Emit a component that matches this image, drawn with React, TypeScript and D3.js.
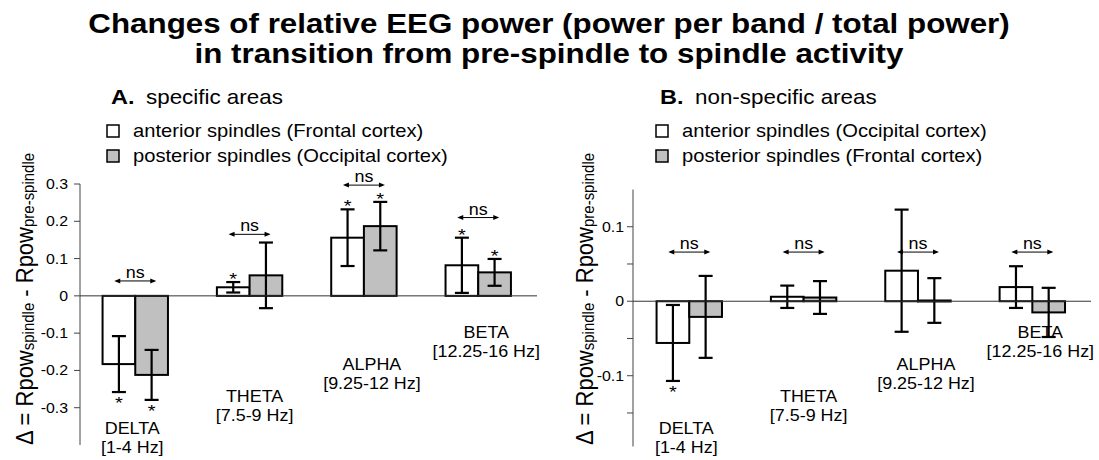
import React from 'react'
import { scaleBand, scaleLinear } from 'd3';

const bands = ["DELTA", "THETA", "ALPHA", "BETA"];
const bandRanges = ["[1-4 Hz]", "[7.5-9 Hz]", "[9.25-12 Hz]", "[12.25-16 Hz]"];
const groups = ["anterior", "posterior"];

// panel A - specific areas
const aAnterior = [-0.183, 0.023, 0.156, 0.082];
const aAnteriorErr = [0.075, 0.014, 0.076, 0.074];
const aPosterior = [-0.212, 0.055, 0.187, 0.063];
const aPosteriorErr = [0.067, 0.088, 0.065, 0.036];
const aAnteriorStar = [true, true, true, true];
const aPosteriorStar = [true, false, true, true];
const aNsLevel = [0.04, 0.165, 0.297, 0.21];
const aTicks = [0.3, 0.2, 0.1, 0, -0.1, -0.2, -0.3];
const aMinor: number[] = [];

// panel B - non-specific areas
const bAnterior = [-0.056, 0.006, 0.041, 0.019];
const bAnteriorErr = [0.051, 0.015, 0.082, 0.028];
const bPosterior = [-0.021, 0.005, 0.001, -0.015];
const bPosteriorErr = [0.055, 0.022, 0.030, 0.033];
const bAnteriorStar = [true, false, false, false];
const bPosteriorStar = [false, false, false, false];
const bNsLevel = [0.066, 0.066, 0.066, 0.066];
const bTicks = [0.1, 0, -0.1];
const bMinor = [0.05, -0.05, -0.15];

const FONT = "'Liberation Sans', Arial, sans-serif";
const SX = 1.12;
const labelBase = [434, 402, 370, 338];
const labelDx = [-3, 5, 8, 8];
const fills = { anterior: "#ffffff", posterior: "#c0c0c0" };

const T = ({ x, y, size, anchor = "start", bold = false, sx = SX, children }: any) => (
    <text transform={`translate(${x},${y}) scale(${sx},1)`} fontSize={size} fontFamily={FONT}
        fontWeight={bold ? "bold" : "normal"} textAnchor={anchor} fill="#000">{children}</text>
)

const YLabel = ({ x, y }: any) => (
    <text transform={`translate(${x},${y}) rotate(-90) scale(1,${SX})`} fontFamily={FONT} fill="#000" fontSize={22}>
        <tspan>Δ = Rpow</tspan>
        <tspan fontSize={15} dy={1}>spindle</tspan>
        <tspan dy={-1}> - Rpow</tspan>
        <tspan fontSize={15} dy={1}>pre-spindle</tspan>
    </text>
)

const Panel = ({ xRange, yDomain, yRange, axisX, zeroEnd, ticks, minor, tickGap, ant, antErr, post, postErr, antStar, postStar, nsLevel, letter, title, leg1, leg2, legX, labelX }: any) => {

    const x = scaleBand().domain(bands).range(xRange).paddingInner(0.428).paddingOuter(0.214);
    const xs = scaleBand().domain(groups).range([0, x.bandwidth()]);
    const y = scaleLinear().domain(yDomain).range(yRange);

    const series: any = {
        anterior: { v: ant, e: antErr, s: antStar },
        posterior: { v: post, e: postErr, s: postStar }
    };

    return (
        <g>
            <T x={legX + 4} y={104} size={21} bold>{letter}</T>
            <T x={legX + 39} y={104} size={20}>{title}</T>
            <rect x={legX} y={125} width={12} height={12} fill={fills.anterior} stroke="#000" strokeWidth={1.5} />
            <T x={legX + 26} y={137} size={18}>{leg1}</T>
            <rect x={legX} y={150} width={12} height={12} fill={fills.posterior} stroke="#000" strokeWidth={1.5} />
            <T x={legX + 26} y={162} size={18}>{leg2}</T>

            <line x1={axisX} x2={axisX} y1={yRange[1]} y2={yRange[0]} stroke="#444" strokeWidth={1} />
            {ticks.map((t: number) => (
                <g key={t}>
                    <line x1={axisX - 6} x2={axisX} y1={y(t)} y2={y(t)} stroke="#444" />
                    <T x={axisX - tickGap} y={y(t) + 5} size={15} anchor="end" sx={1.06}>{String(t)}</T>
                </g>
            ))}
            {minor.map((t: number) => (
                <line key={t} x1={axisX - 6} x2={axisX} y1={y(t)} y2={y(t)} stroke="#444" />
            ))}

            {bands.map((b, i) => {
                const gx = x(b) as number;
                const cx = gx + x.bandwidth() / 2;
                const ay = y(nsLevel[i]);
                return (
                    <g key={b}>
                        {groups.map((g) => {
                            const v = series[g].v[i];
                            const e = series[g].e[i];
                            const bx = gx + (xs(g) as number);
                            const mx = bx + xs.bandwidth() / 2;
                            const top = y(v + e);
                            const bot = y(v - e);
                            return (
                                <g key={g}>
                                    <rect x={bx} y={Math.min(y(0), y(v))} width={xs.bandwidth()}
                                        height={Math.max(1, Math.abs(y(v) - y(0)))}
                                        fill={fills[g as keyof typeof fills]} stroke="#000" strokeWidth={2} />
                                    <line x1={mx} x2={mx} y1={top} y2={bot} stroke="#000" strokeWidth={2.2} />
                                    <line x1={mx - 7} x2={mx + 7} y1={top} y2={top} stroke="#000" strokeWidth={2.2} />
                                    <line x1={mx - 7} x2={mx + 7} y1={bot} y2={bot} stroke="#000" strokeWidth={2.2} />
                                    {series[g].s[i] && (
                                        v >= 0
                                            ? <T x={mx} y={top + 3} size={16} anchor="middle" sx={1.25}>*</T>
                                            : <T x={mx} y={bot + 17} size={16} anchor="middle" sx={1.25}>*</T>
                                    )}
                                </g>
                            )
                        })}
                        <line x1={cx - 19} x2={cx + 19} y1={ay} y2={ay} stroke="#000" strokeWidth={1} />
                        <polygon points={`${cx - 21},${ay} ${cx - 15},${ay - 2.5} ${cx - 15},${ay + 2.5}`} fill="#000" />
                        <polygon points={`${cx + 21},${ay} ${cx + 15},${ay - 2.5} ${cx + 15},${ay + 2.5}`} fill="#000" />
                        <T x={cx} y={ay - 3} size={16} anchor="middle">ns</T>
                        <T x={cx + labelDx[i]} y={labelBase[i]} size={16} anchor="middle">{b}</T>
                        <T x={cx + labelDx[i]} y={labelBase[i] + 19} size={16} anchor="middle">{bandRanges[i]}</T>
                    </g>
                )
            })}

            <line x1={axisX} x2={zeroEnd} y1={y(0)} y2={y(0)} stroke="#333" strokeWidth={1} />
            <YLabel x={labelX} y={445} />
        </g>
    )
}

const App = () => {
    return (
        <div style={{ position: 'absolute', left: 0, top: 0 }}>
            <svg width={1099} height={460} style={{ display: 'block', background: '#fff' }}>
                <T x={549} y={33} size={28} bold anchor="middle">Changes of relative EEG power (power per band / total power)</T>
                <T x={549} y={63} size={28} bold anchor="middle">in transition from pre-spindle to spindle activity</T>
                <Panel xRange={[78.1, 535.4]} yDomain={[-0.4, 0.3]} yRange={[445, 184]} axisX={80} zeroEnd={537}
                    ticks={aTicks} minor={aMinor} tickGap={12}
                    ant={aAnterior} antErr={aAnteriorErr} post={aPosterior} postErr={aPosteriorErr}
                    antStar={aAnteriorStar} postStar={aPosteriorStar} nsLevel={aNsLevel}
                    letter="A." title="specific areas" leg1="anterior spindles (Frontal cortex)"
                    leg2="posterior spindles (Occipital cortex)" legX={107} labelX={33} />
                <Panel xRange={[632.1, 1089.5]} yDomain={[-0.195, 0.15]} yRange={[446.5, 189.5]} axisX={633} zeroEnd={1091}
                    ticks={bTicks} minor={bMinor} tickGap={9}
                    ant={bAnterior} antErr={bAnteriorErr} post={bPosterior} postErr={bPosteriorErr}
                    antStar={bAnteriorStar} postStar={bPosteriorStar} nsLevel={bNsLevel}
                    letter="B." title="non-specific areas" leg1="anterior spindles (Occipital cortex)"
                    leg2="posterior spindles (Frontal cortex)" legX={656} labelX={593} />
            </svg>
        </div>
    )
}

export default App;
